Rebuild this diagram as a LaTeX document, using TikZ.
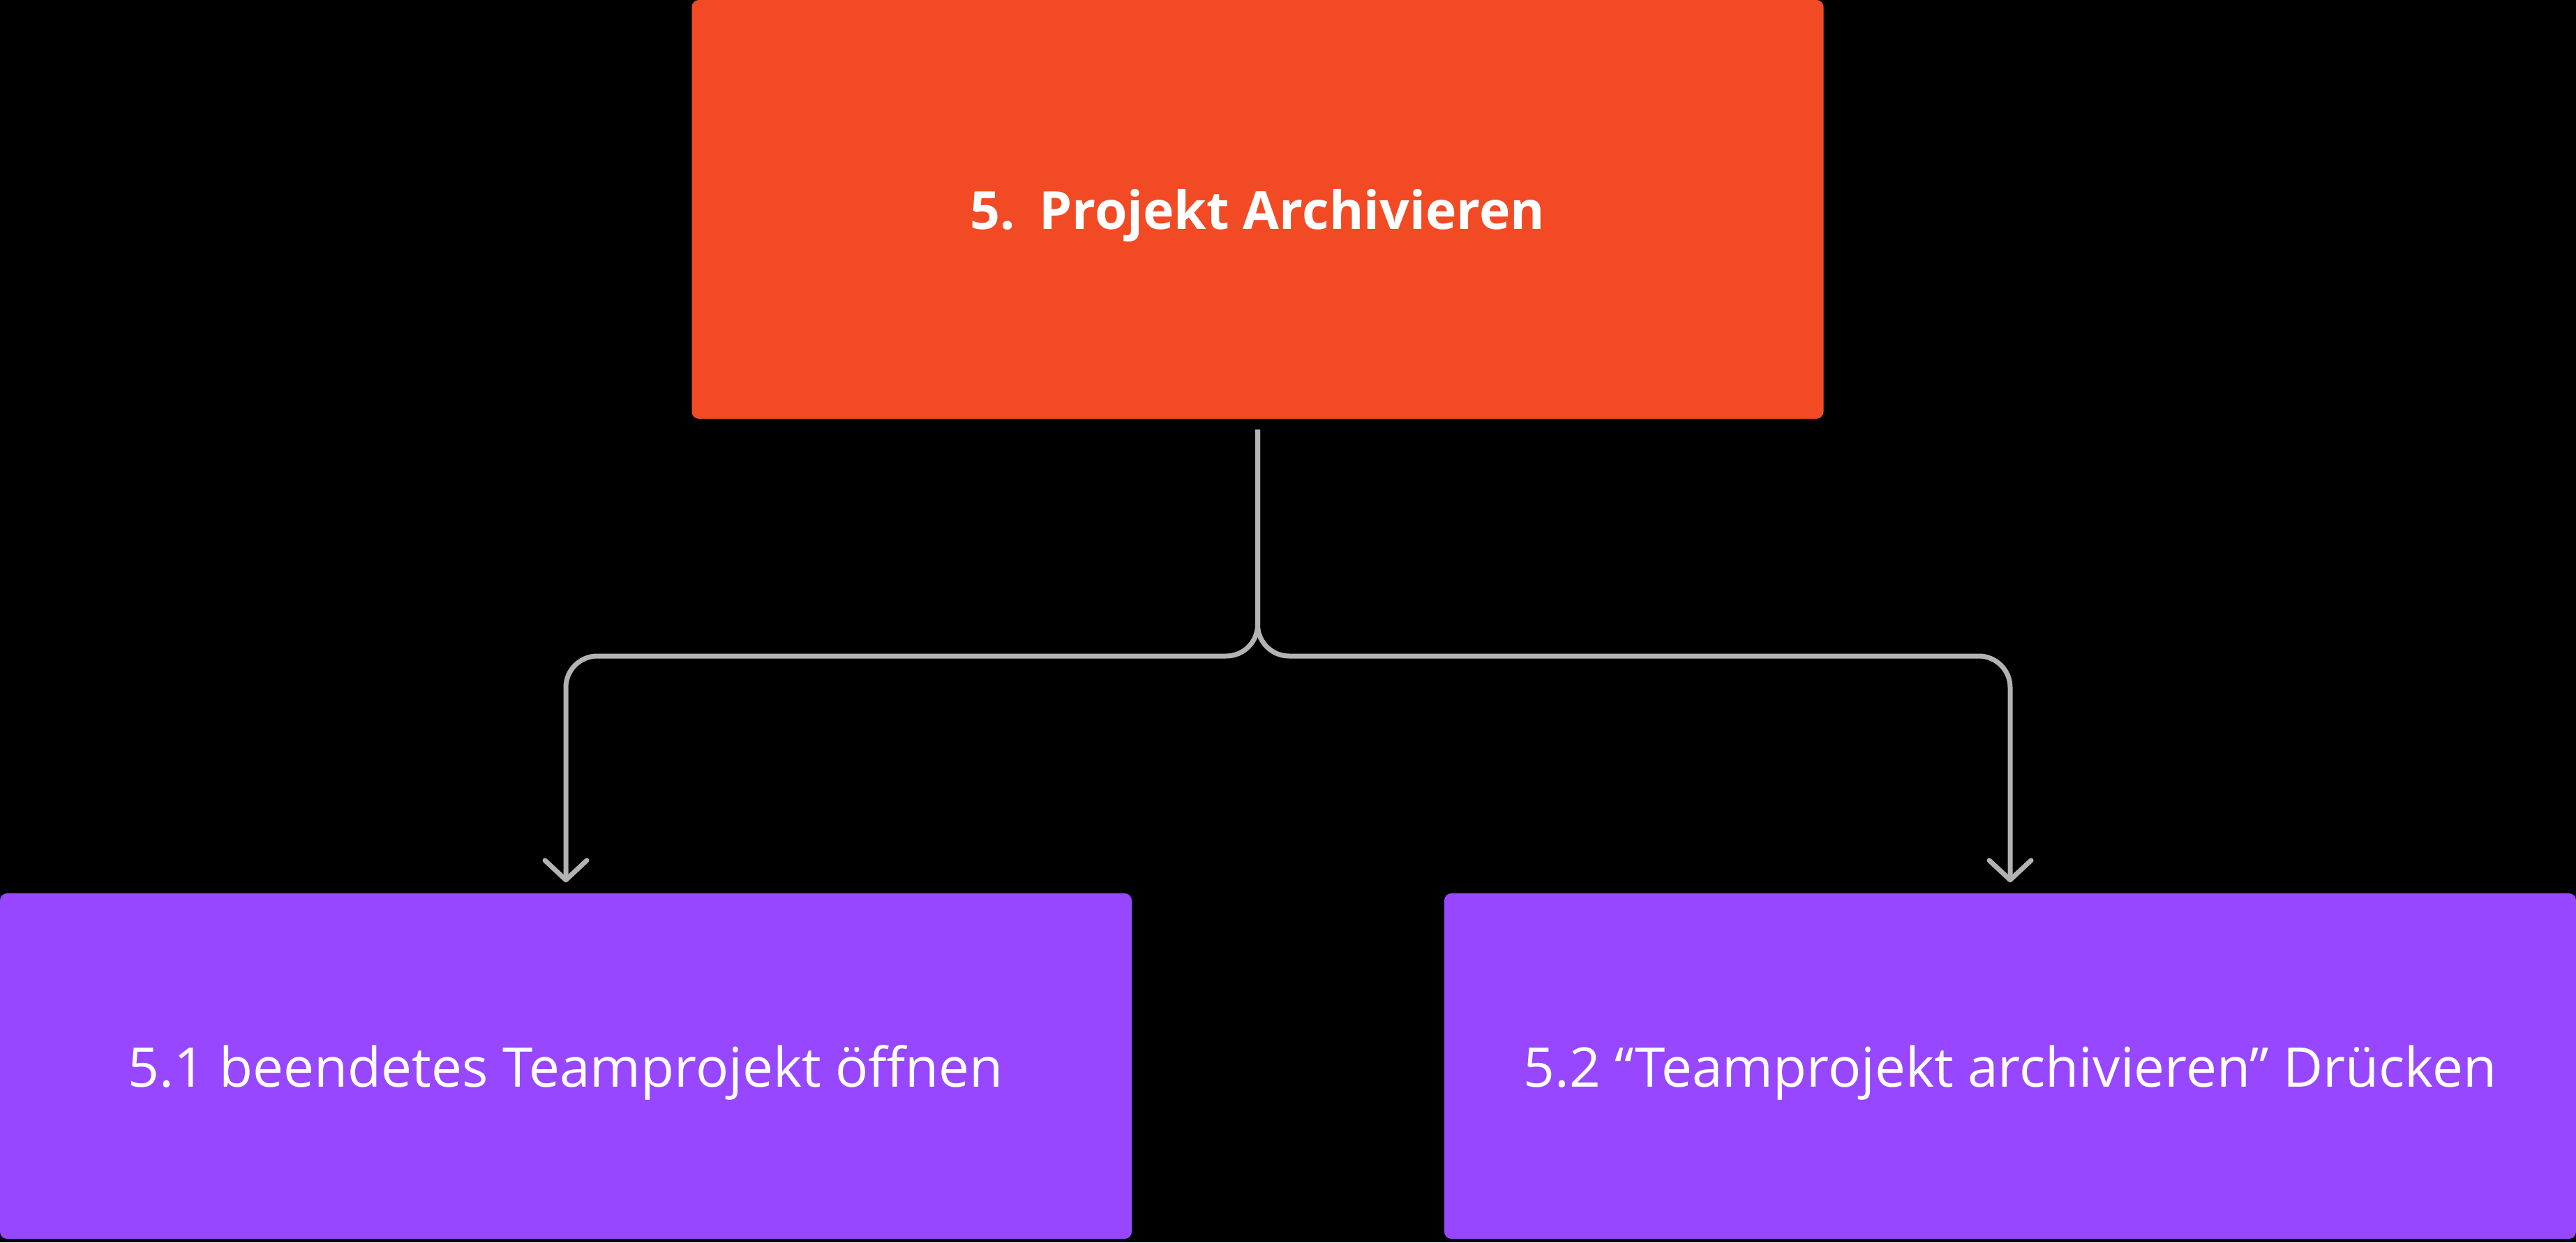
\documentclass[tikz,border=0pt]{standalone}
\usepackage{fontspec}
\setmainfont{Open Sans}
\usetikzlibrary{calc,arrows.meta}
\definecolor{archred}{HTML}{F24A24}
\definecolor{steppurple}{HTML}{9747FF}
\definecolor{linkgray}{HTML}{B3B3B3}

\begin{document}
\begin{tikzpicture}
  \fill[black] (0,0) rectangle (36.92,17.80);
  \useasboundingbox (0,0) rectangle (36.92,17.80);
  \tikzset{
    box/.style={rectangle,rounded corners=0.1cm,inner sep=0pt,text=white,
      minimum width=16.22cm,text depth=0pt},
    link/.style={linkgray,line width=0.07cm,rounded corners=0.45cm,
      -{Straight Barb[length=0.28cm,width=0.6cm,round]}}
  }

  \node[box,fill=archred,minimum height=6cm,
    font=\bfseries\fontsize{21.4}{26}\selectfont] (arch) at (18.025,14.80)
    {5.\hspace{0.45em}Projekt Archivieren};
  \node[box,fill=steppurple,minimum height=4.95cm,
    font=\fontsize{22.3}{26}\selectfont] (open) at (8.11,2.525)
    {5.1 beendetes Teamprojekt öffnen};
  \node[box,fill=steppurple,minimum height=4.95cm,
    font=\fontsize{22.3}{26}\selectfont] (press) at (28.81,2.525)
    {5.2 “Teamprojekt archivieren” Drücken};

  \coordinate (split) at (0,8.40);
  \coordinate (top) at ($ (arch.south) + (0,-0.15) $);
  \draw[link] (top) -- (top |- split) -- (open.north |- split)
    -- ($ (open.north) + (0,0.15) $);
  \draw[link] (top) -- (top |- split) -- (press.north |- split)
    -- ($ (press.north) + (0,0.15) $);
\end{tikzpicture}
\end{document}
